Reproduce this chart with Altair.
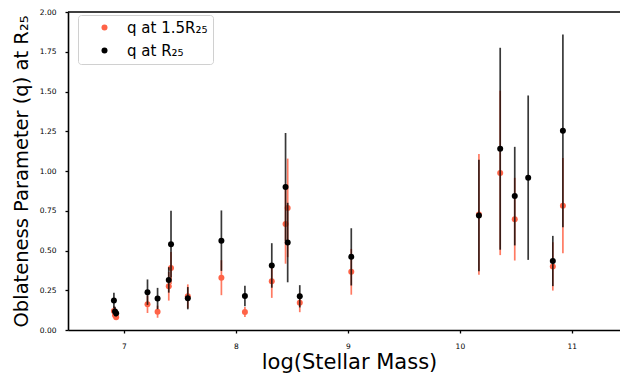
import altair as alt
import pandas as pd

FONT = "DejaVu Sans"

# ---- data ----
log_mass = [6.91, 6.92, 6.93, 7.21, 7.30, 7.40, 7.42, 7.57, 7.87, 8.08, 8.32,
            8.443, 8.462, 8.57, 9.03, 10.17, 10.36, 10.49, 10.61, 10.83, 10.92]
q_r25 = [0.185, 0.117, 0.105, 0.238, 0.198, 0.315, 0.54, 0.20, 0.562, 0.214, 0.406,
         0.899, 0.55, 0.212, 0.46, 0.72, 1.14, 0.842, 0.958, 0.434, 1.253]
q_r25_err = [0.05, 0.03, 0.02, 0.08, 0.067, 0.08, 0.21, 0.07, 0.19, 0.065, 0.14,
             0.34, 0.25, 0.07, 0.18, 0.35, 0.635, 0.31, 0.517, 0.158, 0.606]
q_15 = [0.12, 0.093, 0.08, 0.162, 0.115, 0.275, 0.39, 0.212, 0.329, 0.113, 0.307,
        0.667, 0.768, 0.172, 0.366, 0.727, 0.988, 0.697, None, 0.40, 0.782]
q_15_err = [0.03, 0.02, 0.015, 0.055, 0.038, 0.09, 0.10, 0.075, 0.11, 0.032, 0.105,
            0.25, 0.31, 0.06, 0.144, 0.38, 0.517, 0.26, None, 0.152, 0.30]

series_names = ["q at 1.5R₂₅", "q at R₂₅"]
series_colors = ["tomato", "black"]
x_ticks = [7, 8, 9, 10, 11]
y_ticks = [0.0, 0.25, 0.5, 0.75, 1.0, 1.25, 1.5, 1.75, 2.0]
x_domain = [6.5, 11.43]
y_domain = [0, 2]
y_title = "Oblateness Parameter (q) at R₂₅"


def make_df(xs, qs, errs, name):
    rows = []
    for x, q, e in zip(xs, qs, errs):
        if q is None:
            continue
        rows.append({"logm": x, "q": q, "lo": q - e, "hi": q + e, "series": name})
    return pd.DataFrame(rows)


df_red = make_df(log_mass, q_15, q_15_err, series_names[0])
df_blk = make_df(log_mass, q_r25, q_r25_err, series_names[1])

x_axis = alt.Axis(values=x_ticks, format="d", title="log(Stellar Mass)",
                  titleX=281, labelOverlap=False)
y_axis = alt.Axis(values=y_ticks, format=".2f", labelOverlap=False, title=y_title)
y_scale = alt.Scale(domain=y_domain, nice=False)

x_enc = alt.X("logm:Q", scale=alt.Scale(domain=x_domain, nice=False, zero=False),
              axis=x_axis)
color_enc = alt.Color("series:N",
                      scale=alt.Scale(domain=series_names, range=series_colors),
                      legend=alt.Legend(title=None))


def bars(df, col, op):
    return alt.Chart(df).mark_rule(color=col, opacity=op, strokeWidth=1.7).encode(
        x=x_enc, y=alt.Y("lo:Q", scale=y_scale, axis=y_axis), y2="hi:Q"
    )


def pts(df):
    return alt.Chart(df).mark_circle(size=36, opacity=1).encode(
        x=x_enc, y=alt.Y("q:Q", scale=y_scale, axis=y_axis), color=color_enc
    )


top_spine = alt.Chart(pd.DataFrame({"v": [2.0]})).mark_rule(
    color="black", strokeWidth=1.6
).encode(y=alt.Y("v:Q", scale=y_scale, axis=y_axis))

chart = alt.layer(
    bars(df_red, "tomato", 0.85),
    pts(df_red),
    bars(df_blk, "black", 0.78),
    pts(df_blk),
    top_spine,
).properties(
    width=552,
    height=318,
    autosize=alt.AutoSizeParams(type="none"),
    padding={"left": 60, "top": 4, "right": 0, "bottom": 43},
).configure_view(
    stroke=None
).configure_axis(
    grid=False,
    domainColor="black",
    domainWidth=1.6,
    tickColor="black",
    tickWidth=1.3,
    tickSize=3,
    labelFont=FONT,
    labelFontSize=7.5,
    labelColor="black",
    titleFont=FONT,
    titleFontWeight="normal",
    titleColor="black",
).configure_axisX(
    labelPadding=9,
    titlePadding=2,
    titleFontSize=21,
).configure_axisY(
    labelPadding=9,
    titlePadding=8,
    titleFontSize=19.5,
).configure_legend(
    orient="none",
    legendX=10,
    legendY=3,
    fillColor="white",
    strokeColor="#d0d0d0",
    cornerRadius=3,
    padding=5,
    symbolType="circle",
    symbolSize=36,
    symbolOffset=14,
    symbolStrokeWidth=0,
    labelFont=FONT,
    labelFontSize=15,
    labelOffset=15,
    rowPadding=7,
)

chart.save("out.html", embed_options={"renderer": "svg", "actions": False})
